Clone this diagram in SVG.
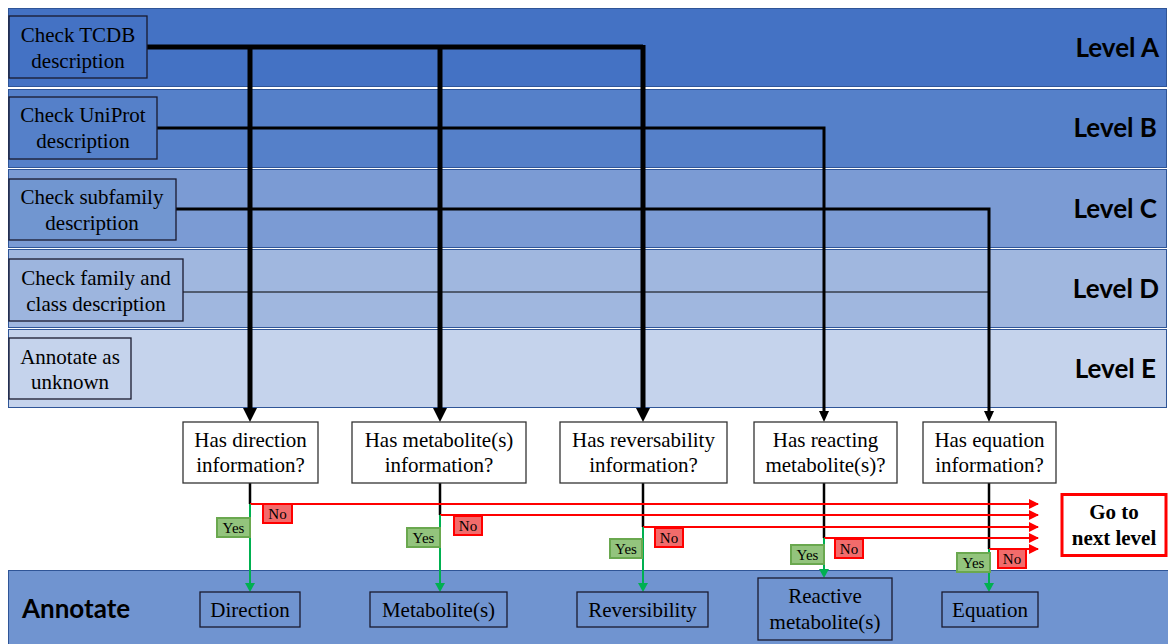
<svg xmlns="http://www.w3.org/2000/svg" width="1168" height="644" viewBox="0 0 1168 644">
<style>
.band{stroke:#2F5597;stroke-width:1}
.box{stroke:#1a1a2e;stroke-width:1.3}
.t{font-family:"Liberation Serif","Times New Roman","DejaVu Serif",serif;font-size:21px;fill:#000;text-anchor:middle}
.lv{font-family:Lato,"Open Sans",sans-serif;font-weight:bold;font-size:26px;fill:#000;text-anchor:end}
.q{fill:#fff;stroke:#333;stroke-width:1.3}
.yes{fill:#93C47D;stroke:#6AA84F;stroke-width:2}
.no{fill:#F26B6B;stroke:#FF0000;stroke-width:2}
.s{font-family:"Liberation Serif","Times New Roman",serif;font-size:15px;fill:#000;text-anchor:middle}
.blk{stroke:#000;fill:none}
.red{stroke:#FF0000;stroke-width:2;fill:none}
.grn{stroke:#00B050;stroke-width:2;fill:none}
</style>
<defs>
<marker id="ab" markerUnits="userSpaceOnUse" markerWidth="16" markerHeight="16" refX="8" refY="0" viewBox="0 0 16 16">
<path d="M1,0 L15,0 L8,14 Z" fill="#000"/>
</marker>
<marker id="ab2" markerUnits="userSpaceOnUse" markerWidth="12" markerHeight="12" refX="6" refY="0" viewBox="0 0 12 12">
<path d="M1,0 L11,0 L6,11 Z" fill="#000"/>
</marker>
<marker id="ag" markerUnits="userSpaceOnUse" markerWidth="10" markerHeight="10" refX="5" refY="0" viewBox="0 0 10 10">
<path d="M0,0 L10,0 L5,9 Z" fill="#00B050"/>
</marker>
<marker id="ar" markerUnits="userSpaceOnUse" markerWidth="10" markerHeight="10" refX="9" refY="5" viewBox="0 0 10 10">
<path d="M0,0 L10,5 L0,10 Z" fill="#FF0000"/>
</marker>
</defs>
<rect width="1168" height="644" fill="#fff"/>
<!-- bands -->
<g id="bands">
<rect class="band" x="8.5" y="8.5" width="1158" height="78" fill="#4472C4"/>
<rect class="band" x="8.5" y="89.5" width="1158" height="78" fill="#5580C9"/>
<rect class="band" x="8.5" y="169.5" width="1158" height="78" fill="#7B9BD4"/>
<rect class="band" x="8.5" y="249.5" width="1158" height="78" fill="#A0B7DF"/>
<rect class="band" x="8.5" y="329.5" width="1158" height="78" fill="#C5D3EC"/>
<rect class="band" x="8.5" y="570.5" width="1160" height="74" fill="#7094D0"/>
<text class="lv" x="1159" y="57">Level A</text>
<text class="lv" x="1157" y="137">Level B</text>
<text class="lv" x="1157" y="218">Level C</text>
<text class="lv" x="1159" y="298">Level D</text>
<text class="lv" x="1156" y="378">Level E</text>
<text class="lv" x="22" y="618" style="text-anchor:start">Annotate</text>
</g>
<!-- connectors -->
<g id="connectors">
<path class="blk" d="M147,47 H643" stroke-width="5"/>
<path class="blk" d="M250,45 V408" stroke-width="5" marker-end="url(#ab)"/>
<path class="blk" d="M440,45 V408" stroke-width="5" marker-end="url(#ab)"/>
<path class="blk" d="M643,45 V408" stroke-width="5" marker-end="url(#ab)"/>
<path class="blk" d="M157,128 H824 V411" stroke-width="3" marker-end="url(#ab2)"/>
<path class="blk" d="M176,209 H989 V411" stroke-width="3" marker-end="url(#ab2)"/>
<path class="blk" d="M183,292 H990" stroke-width="1" stroke="#3a4a60"/>
<!-- down from questions -->
<path class="blk" d="M250,483 V504" stroke-width="2.5"/>
<path class="blk" d="M440,483 V515" stroke-width="2.5"/>
<path class="blk" d="M643,483 V527" stroke-width="2.5"/>
<path class="blk" d="M824,483 V538" stroke-width="2.5"/>
<path class="blk" d="M989,483 V549" stroke-width="2.5"/>
<path class="red" d="M250,504 H1038" marker-end="url(#ar)"/>
<path class="red" d="M440,515 H1038" marker-end="url(#ar)"/>
<path class="red" d="M643,527 H1038" marker-end="url(#ar)"/>
<path class="red" d="M824,538 H1038" marker-end="url(#ar)"/>
<path class="red" d="M989,549 H1038" marker-end="url(#ar)"/>
<path class="grn" d="M250,504 V583" marker-end="url(#ag)"/>
<path class="grn" d="M440,515 V583" marker-end="url(#ag)"/>
<path class="grn" d="M643,527 V583" marker-end="url(#ag)"/>
<path class="grn" d="M824,538 V569" marker-end="url(#ag)"/>
<path class="grn" d="M989,549 V583" marker-end="url(#ag)"/>
</g>
<!-- level nodes -->
<g id="n-tcdb"><rect class="box" x="9" y="16" width="138" height="62" fill="#4472C4"/><text class="t" x="78" y="42">Check TCDB</text><text class="t" x="78" y="68">description</text></g>
<g id="n-uniprot"><rect class="box" x="9" y="97" width="148" height="62" fill="#5580C9"/><text class="t" x="83" y="122">Check UniProt</text><text class="t" x="83" y="148">description</text></g>
<g id="n-subfamily"><rect class="box" x="9" y="179" width="167" height="61" fill="#7196D0"/><text class="t" x="92" y="204">Check subfamily</text><text class="t" x="92" y="230">description</text></g>
<g id="n-family"><rect class="box" x="9" y="259" width="174" height="62" fill="#9DB5DE"/><text class="t" x="96" y="285">Check family and</text><text class="t" x="96" y="311">class description</text></g>
<g id="n-unknown"><rect class="box" x="9" y="338" width="122" height="61" fill="#C5D3EC"/><text class="t" x="70" y="364">Annotate as</text><text class="t" x="70" y="389">unknown</text></g>
<!-- question nodes -->
<g id="q-direction"><rect class="q" x="183" y="422" width="135" height="61"/><text class="t" x="250.5" y="447">Has direction</text><text class="t" x="250.5" y="472">information?</text></g>
<g id="q-metabolite"><rect class="q" x="352" y="422" width="174" height="61"/><text class="t" x="439" y="447">Has metabolite(s)</text><text class="t" x="439" y="472">information?</text></g>
<g id="q-reversibility"><rect class="q" x="560" y="422" width="167" height="61"/><text class="t" x="643.5" y="447">Has reversability</text><text class="t" x="643.5" y="472">information?</text></g>
<g id="q-reacting"><rect class="q" x="754" y="422" width="143" height="61"/><text class="t" x="825.5" y="447">Has reacting</text><text class="t" x="825.5" y="472">metabolite(s)?</text></g>
<g id="q-equation"><rect class="q" x="923" y="422" width="133" height="61"/><text class="t" x="989.5" y="447">Has equation</text><text class="t" x="989.5" y="472">information?</text></g>
<!-- yes/no labels -->
<g id="yn1"><rect class="yes" x="217" y="518" width="33" height="19"/><text class="s" x="233.5" y="533">Yes</text><rect class="no" x="263" y="504" width="29" height="19"/><text class="s" x="277.5" y="519">No</text></g>
<g id="yn2"><rect class="yes" x="407" y="528" width="33" height="19"/><text class="s" x="423.5" y="543">Yes</text><rect class="no" x="454" y="516" width="28" height="19"/><text class="s" x="468" y="531">No</text></g>
<g id="yn3"><rect class="yes" x="610" y="539" width="32" height="19"/><text class="s" x="626" y="554">Yes</text><rect class="no" x="655" y="528" width="28" height="19"/><text class="s" x="669" y="543">No</text></g>
<g id="yn4"><rect class="yes" x="791" y="545" width="33" height="19"/><text class="s" x="807.5" y="560">Yes</text><rect class="no" x="835" y="539" width="28" height="19"/><text class="s" x="849" y="554">No</text></g>
<g id="yn5"><rect class="yes" x="957" y="553" width="33" height="19"/><text class="s" x="973.5" y="568">Yes</text><rect class="no" x="998" y="549" width="28" height="19"/><text class="s" x="1012" y="564">No</text></g>
<!-- next level -->
<g id="n-next"><rect x="1062" y="494.5" width="104" height="61" fill="#fff" stroke="#FF0000" stroke-width="3"/><text class="t" x="1114" y="519" font-weight="bold">Go to</text><text class="t" x="1114" y="545" font-weight="bold">next level</text></g>
<!-- answers -->
<g id="a-direction"><rect class="box" x="200" y="592" width="100" height="35" fill="#7094D0"/><text class="t" x="250" y="617">Direction</text></g>
<g id="a-metabolite"><rect class="box" x="370" y="592" width="137" height="35" fill="#7094D0"/><text class="t" x="438.5" y="617">Metabolite(s)</text></g>
<g id="a-reversibility"><rect class="box" x="577" y="592" width="131" height="35" fill="#7094D0"/><text class="t" x="642.5" y="617">Reversibility</text></g>
<g id="a-reactive"><rect class="box" x="758" y="578" width="134" height="62" fill="#7094D0"/><text class="t" x="825" y="603">Reactive</text><text class="t" x="825" y="629">metabolite(s)</text></g>
<g id="a-equation"><rect class="box" x="942" y="592" width="96" height="35" fill="#7094D0"/><text class="t" x="990" y="617">Equation</text></g>
</svg>
